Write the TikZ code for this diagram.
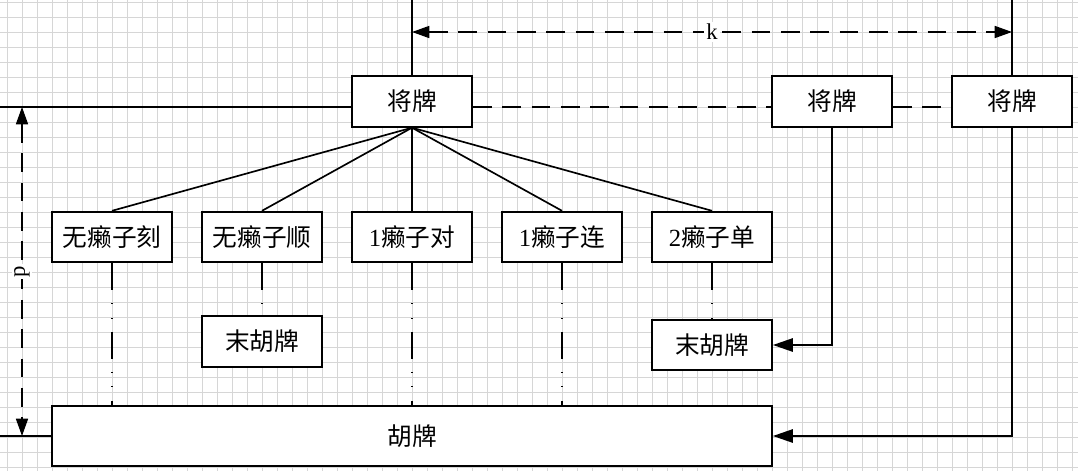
\documentclass[tikz,border=0pt]{standalone}
\usepackage{fontspec}
\setmainfont{Liberation Serif}
\newfontfamily\cjk{Noto Sans CJK SC}
\usetikzlibrary{arrows.meta}
\tikzset{
  khung/.style={draw, line width=1.3pt, fill=white, minimum width=90pt, minimum height=38pt, inner sep=0pt, font=\cjk\fontsize{18.5}{22}\selectfont},
  lien/.style={line width=1.25pt},
  dut/.style={line width=1.25pt, dash pattern=on 14pt off 8pt},
  chamgach/.style={line width=1.2pt, dash pattern=on 20pt off 10pt on 0.8pt off 10pt on 0.8pt off 10pt},
  mui/.style={-{Triangle[length=15pt,width=10pt]}},
  haimui/.style={{Triangle[length=13pt,width=9pt]}-{Triangle[length=13pt,width=9pt]}},
  nhan/.style={fill=white, inner sep=1.5pt, font=\fontsize{17}{19}\selectfont},
}
\begin{document}
\begin{tikzpicture}[x=0.75pt, y=-0.75pt, line join=miter]
		\useasboundingbox (0,0) rectangle (1078,471);
		\fill[white] (0,0) rectangle (1078,471);
		
		% 网格
		\foreach \gx in {7,22,...,1072} \draw[gray!32, line width=0.75pt] (\gx,0) -- (\gx,471);
		\foreach \gy in {2,17,...,467} \draw[gray!32, line width=0.75pt] (0,\gy) -- (1078,\gy);
		
		% 各个方框
		\node[khung] (jiangA) at (412,101.5) {将牌};
		\node[khung] (jiangB) at (832,101.5) {将牌};
		\node[khung] (jiangC) at (1012,101.5) {将牌};
		\node[khung] (kezi) at (112,237) {无癞子刻};
		\node[khung] (shunzi) at (262,237) {无癞子顺};
		\node[khung] (duizi) at (412,237) {{\rmfamily 1}癞子对};
		\node[khung] (lianzi) at (562,237) {{\rmfamily 1}癞子连};
		\node[khung] (danzi) at (712,237) {{\rmfamily 2}癞子单};
		\node[khung] (weihuA) at (262,341.5) {末胡牌};
		\node[khung] (weihuB) at (712,345) {末胡牌};
		\node[khung, minimum width=540pt, minimum height=45pt] (hupai) at (412,436) {胡牌};
		
		% 辅助点
		\coordinate (topA) at (412,0);
		\coordinate (topC) at (1012,0);
		\coordinate (kA) at (412,32);
		\coordinate (kC) at (1012,32);
		\coordinate (trai1) at (0,107);
		\coordinate (trai2) at (0,436);
		\coordinate (pT) at (22,107);
		\coordinate (pB) at (22,436);
		
		% 实线
		\draw[lien] (topA) -- (jiangA.north);
		\draw[lien] (topC) -- (jiangC.north);
		\draw[lien] (trai1) -- (trai1 -| jiangA.west);
		\draw[lien] (trai2) -- (hupai.west);
		\foreach \n in {kezi,shunzi,duizi,lianzi,danzi}
			\draw[lien] (jiangA.south) -- (\n.north);
		
		% 虚线
		\draw[dut] (jiangA.east |- trai1) -- (jiangB.west |- trai1);
		\draw[dut] (jiangB.east |- trai1) -- (jiangC.west |- trai1);
		
		% 点划线
		\draw[chamgach] (kezi.south) -- (kezi.south |- hupai.north);
		\draw[chamgach] (shunzi.south) -- (weihuA.north);
		\draw[chamgach] (duizi.south) -- (hupai.north);
		\draw[chamgach] (lianzi.south) -- (lianzi.south |- hupai.north);
		\draw[chamgach] (danzi.south) -- (weihuB.north);
		
		% 箭头
		\draw[lien, mui] (jiangB.south) |- (weihuB.east);
		\draw[lien, mui] (jiangC.south) |- (hupai.east);
		
		% 尺寸 k 和 p
		\draw[dut, haimui] (kA) -- node[nhan] {k} (kC);
		\draw[dut, haimui] (pT) -- node[nhan, rotate=90] {p} (pB);
\end{tikzpicture}
\end{document}
